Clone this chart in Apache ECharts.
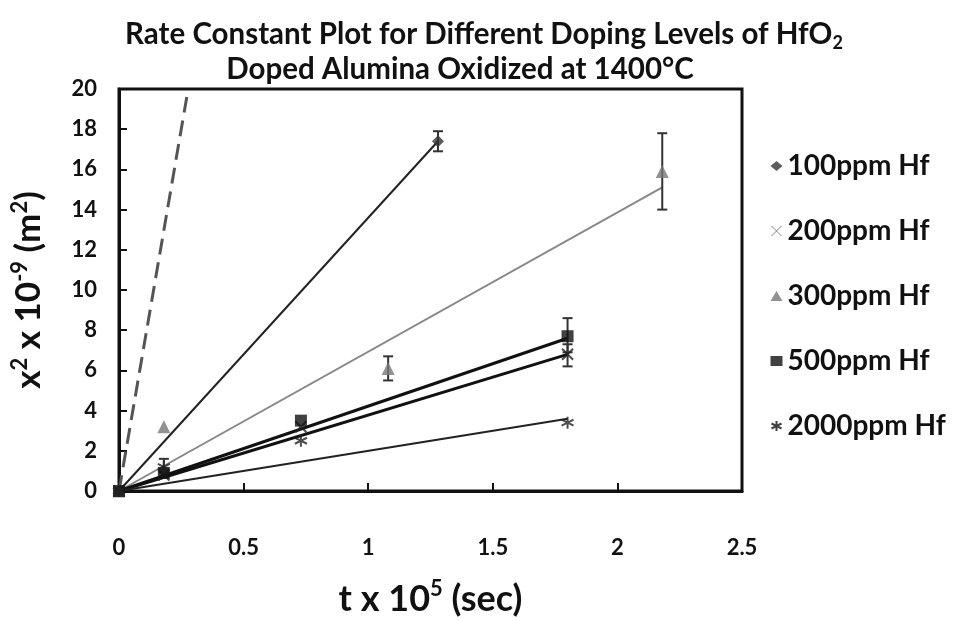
<!DOCTYPE html>
<html>
<head>
<meta charset="utf-8">
<script src="https://cdn.jsdelivr.net/npm/echarts@6/dist/echarts.min.js"></script>
<style>
  html, body { margin: 0; padding: 0; background: #fff; }
  #chart { width: 958px; height: 621px; }
</style>
</head>
<body>
<div id="chart"></div>
<script>
// x in units of 1e5 s, y in units of 1e-9 m^2
const hf100 = [[0, 0], [0.18, 1.0], [1.28, 17.4]];
const hf200 = [[0, 0], [0.18, 0.8], [0.73, 3.2], [1.8, 6.8]];
const hf300 = [[0, 0], [0.18, 3.2], [1.08, 6.1], [2.18, 15.9]];
const hf500 = [[0, 0], [0.18, 0.9], [0.73, 3.5], [1.8, 7.7]];
const hf2000 = [[0, 0], [0.18, 1.2], [0.73, 2.5], [1.8, 3.4]];

// [x, low, high]
const errBars = [
  [1.28, 16.9, 17.9],
  [1.8, 6.2, 7.3],
  [1.08, 5.5, 6.7],
  [2.18, 14.0, 17.8],
  [1.8, 6.9, 8.6],
  [0.18, 0.9, 1.6]
];

// linear fits through origin
const fit100 = [[0, 0], [1.28, 17.4]];
const fit200 = [[0, 0], [1.8, 6.8]];
const fit300 = [[0, 0], [2.18, 15.1]];
const fit500 = [[0, 0], [1.8, 7.6]];
const fit2000 = [[0, 0], [1.8, 3.6]];
const refLine = [[0, 0], [0.272, 19.6]];

const xTicks = [0, 0.5, 1, 1.5, 2, 2.5];

const crossPath = 'path://M0,0L10,10M10,0L0,10';
const starPath = 'path://M5,0L5,10M0,2.5L10,7.5M10,2.5L0,7.5';

const chart = echarts.init(document.getElementById('chart'));
const font = 'Lato, "Open Sans", sans-serif';

function fitLine(data, color, width) {
  return {
    type: 'line', data: data, symbol: 'none', silent: true,
    lineStyle: { color: color, width: width }, z: 2
  };
}

function supRich(size, supSize, lh) {
  return {
    b: { fontFamily: font, fontWeight: 'bold', fontSize: size, lineHeight: lh, color: '#111' },
    sup: { fontFamily: font, fontWeight: 'bold', fontSize: supSize, lineHeight: lh, verticalAlign: 'top', color: '#111' },
    sub: { fontFamily: font, fontWeight: 'bold', fontSize: supSize, lineHeight: lh, verticalAlign: 'bottom', color: '#111' }
  };
}

chart.setOption({
  animation: false,
  title: [
    {
      text: '{b|Rate Constant Plot for Different Doping Levels of HfO}{sub|2}',
      left: 479, top: 11, textAlign: 'center',
      textStyle: { rich: supRich(29.5, 18, 36) }
    },
    {
      text: '{b|Doped Alumina Oxidized at 1400°C}',
      left: 455, top: 47, textAlign: 'center',
      textStyle: { rich: supRich(29.5, 18, 34) }
    }
  ],
  grid: {
    left: 119, right: 216, top: 89, bottom: 130, show: true, borderColor: '#111', borderWidth: 3,
    outerBoundsMode: 'none'
  },
  legend: {
    orient: 'vertical', left: 764, top: 146, itemGap: 35,
    itemWidth: 12, itemHeight: 10,
    textStyle: { fontFamily: font, fontWeight: 'bold', fontSize: 28, lineHeight: 30, color: '#111' },
    data: [
      { name: '100ppm Hf', icon: 'diamond' },
      { name: '200ppm Hf', icon: crossPath, itemStyle: { color: 'none', borderColor: '#666', borderWidth: 1 } },
      { name: '300ppm Hf', icon: 'triangle' },
      { name: '500ppm Hf', icon: 'rect' },
      { name: '2000ppm Hf', icon: starPath, itemStyle: { color: 'none', borderColor: '#111', borderWidth: 2 } }
    ]
  },
  xAxis: {
    type: 'value', min: 0, max: 2.5, interval: 0.5,
    name: '{b|t x 10}{sup|5}{b| (sec)}', nameLocation: 'middle', nameGap: 87,
    nameTextStyle: { rich: supRich(36, 22, 42) },
    axisLine: { lineStyle: { color: '#111', width: 3 } },
    axisTick: { inside: true, length: 8, lineStyle: { color: '#111', width: 2 } },
    axisLabel: {
      margin: 46, fontFamily: font, fontWeight: 'bold', fontSize: 22, color: '#111',
      formatter: v => xTicks.includes(v) ? String(v) : ''
    },
    splitLine: { show: false }
  },
  yAxis: {
    type: 'value', min: 0, max: 20, interval: 2,
    name: '{b|x}{sup|2}{b| x 10}{sup|-9}{b| (m}{sup|2}{b|)}', nameLocation: 'middle', nameGap: 70, nameRotate: 90,
    nameTextStyle: { rich: supRich(35, 22, 40) },
    axisLine: { lineStyle: { color: '#111', width: 3 } },
    axisTick: { inside: true, length: 8, lineStyle: { color: '#111', width: 2 } },
    axisLabel: { margin: 22, fontFamily: font, fontWeight: 'bold', fontSize: 22, color: '#111' },
    splitLine: { show: false }
  },
  series: [
    {
      type: 'line', data: refLine, symbol: 'none', silent: true, z: 2,
      lineStyle: { color: '#555', width: 3, type: [16, 8] }
    },
    fitLine(fit100, '#222', 2),
    fitLine(fit300, '#888', 2),
    fitLine(fit500, '#111', 3),
    fitLine(fit200, '#111', 3),
    fitLine(fit2000, '#222', 2),
    {
      type: 'custom', silent: true, z: 3,
      data: errBars,
      renderItem: function (params, api) {
        const x = api.value(0);
        const lo = api.coord([x, api.value(1)]);
        const hi = api.coord([x, api.value(2)]);
        const c = 5;
        const style = { stroke: '#333', lineWidth: 2 };
        return {
          type: 'group',
          children: [
            { type: 'line', shape: { x1: lo[0], y1: lo[1], x2: hi[0], y2: hi[1] }, style: style },
            { type: 'line', shape: { x1: lo[0] - c, y1: lo[1], x2: lo[0] + c, y2: lo[1] }, style: style },
            { type: 'line', shape: { x1: hi[0] - c, y1: hi[1], x2: hi[0] + c, y2: hi[1] }, style: style }
          ]
        };
      }
    },
    {
      name: '100ppm Hf', type: 'scatter', data: hf100, symbol: 'diamond', symbolSize: 12, z: 4,
      itemStyle: { color: '#333' }
    },
    {
      name: '200ppm Hf', type: 'scatter', data: hf200, symbol: crossPath, symbolSize: 11, z: 4,
      itemStyle: { color: 'none', borderColor: '#222', borderWidth: 2 }
    },
    {
      name: '300ppm Hf', type: 'scatter', data: hf300, symbol: 'triangle', symbolSize: 13, z: 4,
      itemStyle: { color: '#777' }
    },
    {
      name: '500ppm Hf', type: 'scatter', data: hf500, symbol: 'rect', symbolSize: 12, z: 4,
      itemStyle: { color: '#111' }
    },
    {
      name: '2000ppm Hf', type: 'scatter', data: hf2000, symbol: starPath, symbolSize: 12, z: 4,
      itemStyle: { color: 'none', borderColor: '#222', borderWidth: 2 }
    }
  ]
});
</script>
</body>
</html>
